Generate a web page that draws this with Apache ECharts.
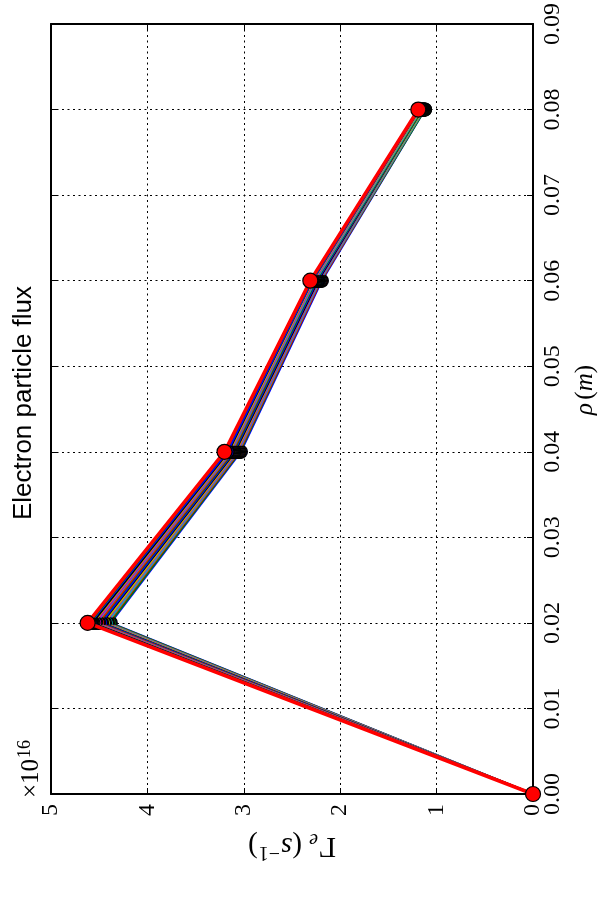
<!DOCTYPE html>
<html>
<head>
<meta charset="utf-8">
<script src="https://cdn.jsdelivr.net/npm/echarts@6/dist/echarts.min.js"></script>
<style>html,body{margin:0;padding:0;background:#fff}#c{width:600px;height:899px}</style>
</head>
<body>
<div id="c"></div>
<script>
// rho positions (m)
var rho = [0, 0.02, 0.04, 0.06, 0.08];
// Gamma_e values (x 1e16 s^-1), one array per run
var g00 = [0, 4.38, 3.03, 2.19, 1.12];
var g01 = [0, 4.39, 3.04, 2.20, 1.12];
var g02 = [0, 4.41, 3.05, 2.20, 1.13];
var g03 = [0, 4.42, 3.06, 2.21, 1.13];
var g04 = [0, 4.44, 3.07, 2.22, 1.14];
var g05 = [0, 4.45, 3.08, 2.23, 1.14];
var g06 = [0, 4.47, 3.09, 2.23, 1.15];
var g07 = [0, 4.48, 3.10, 2.24, 1.15];
var g08 = [0, 4.50, 3.11, 2.25, 1.15];
var g09 = [0, 4.51, 3.12, 2.26, 1.16];
var g10 = [0, 4.53, 3.13, 2.26, 1.16];
var g11 = [0, 4.54, 3.14, 2.27, 1.17];
var g12 = [0, 4.56, 3.15, 2.28, 1.17];
var g13 = [0, 4.57, 3.16, 2.29, 1.18];
var g14 = [0, 4.59, 3.17, 2.29, 1.18];
var g15 = [0, 4.60, 3.19, 2.30, 1.19];
var g16 = [0, 4.62, 3.20, 2.31, 1.19];
var runs = [g00,g01,g02,g03,g04,g05,g06,g07,g08,g09,g10,g11,g12,g13,g14,g15,g16];
var gammaTicks = [0, 1, 2, 3, 4, 5];
var rhoTicks = [0, 0.01, 0.02, 0.03, 0.04, 0.05, 0.06, 0.07, 0.08, 0.09];
var colorCycle = ['#0000ff', '#008000', '#ff0000', '#00bfbf', '#bf00bf', '#bfbf00', '#000000'];

var chart = echarts.init(document.getElementById('c'), null, {renderer: 'canvas'});
var serif = 'Liberation Serif';
var series = runs.map(function (vals, i) {
  var last = (i === runs.length - 1);
  var col = colorCycle[i % colorCycle.length];
  return {
    type: 'line',
    data: vals.map(function (v, j) { return [v, rho[j]]; }),
    symbol: 'circle',
    symbolSize: last ? 15 : 13,
    lineStyle: {color: col, width: last ? 3.5 : 2},
    itemStyle: {color: col, borderColor: '#000', borderWidth: 1.2},
    emphasis: {disabled: true},
    z: 3 + i * 0.01,
    animation: false
  };
});

var dotted = {show: true, lineStyle: {color: '#000', width: 1, type: [2, 3.5]}};
var axLine = {show: true, onZero: false, lineStyle: {color: '#000', width: 2}};
var tick = {show: true, inside: true, length: 6, lineStyle: {color: '#000', width: 1}};

chart.setOption({
  animation: false,
  grid: {left: 51, right: 67, top: 22, bottom: 105, containLabel: false},
  xAxis: [
    {type: 'value', min: gammaTicks[0], max: gammaTicks[gammaTicks.length - 1], interval: 1, inverse: true, position: 'bottom',
     axisLine: axLine, axisTick: tick, splitLine: dotted,
     axisLabel: {rotate: 90, fontFamily: serif, fontSize: 24, color: '#000', margin: 10}},
    {type: 'value', min: 0, max: 5, interval: 1, inverse: true, position: 'top',
     axisLine: axLine, axisTick: tick, splitLine: {show: false}, axisLabel: {show: false}}
  ],
  yAxis: [
    {type: 'value', min: rhoTicks[0], max: rhoTicks[rhoTicks.length - 1], interval: 0.01, position: 'right',
     axisLine: axLine, axisTick: tick, splitLine: dotted,
     axisLabel: {rotate: 90, fontFamily: serif, fontSize: 24, color: '#000', margin: 8,
                 align: 'center', verticalAlign: 'top',
                 formatter: function (v) { return v.toFixed(2); }}},
    {type: 'value', min: 0, max: 0.09, interval: 0.01, position: 'left',
     axisLine: axLine, axisTick: tick, splitLine: {show: false}, axisLabel: {show: false}}
  ],
  series: series,
  graphic: [
    {type: 'text', x: 24, y: 403, rotation: Math.PI / 2, silent: true,
     style: {text: 'Electron particle flux', font: '26px "Liberation Sans"', fill: '#000', align: 'center', verticalAlign: 'middle'}},
    {type: 'text', x: 47, y: 798, rotation: Math.PI / 2, silent: true,
     style: {text: '{n|×10}{sup|16}', fill: '#000', align: 'left', verticalAlign: 'bottom',
             rich: {n: {fontSize: 25, fontFamily: serif, fill: '#000'},
                    sup: {fontSize: 18, fontFamily: serif, fill: '#000', padding: [0, 0, 13, 1]}}}},
    {type: 'text', x: 292, y: 846, rotation: Math.PI, silent: true,
     style: {text: '{n|Γ}{sub|e}{n| (}{it|s}{sup|−1}{n|)}', fill: '#000', align: 'center', verticalAlign: 'middle',
             rich: {n: {fontSize: 29, fontFamily: serif, fill: '#000'},
                    sub: {fontSize: 20, fontStyle: 'italic', fontFamily: serif, fill: '#000', padding: [13, 0, 0, 1]},
                    it: {fontSize: 29, fontStyle: 'italic', fontFamily: serif, fill: '#000'},
                    sup: {fontSize: 20, fontFamily: serif, fill: '#000', padding: [0, 1, 13, 1]}}}},
    {type: 'text', x: 585, y: 390, rotation: Math.PI / 2, silent: true,
     style: {text: '{it|ρ} {n|(}{it|m}{n|)}', fill: '#000', align: 'center', verticalAlign: 'middle',
             rich: {it: {fontSize: 25, fontStyle: 'italic', fontFamily: serif, fill: '#000'},
                    n: {fontSize: 25, fontFamily: serif, fill: '#000'}}}}
  ]
});
</script>
</body>
</html>
